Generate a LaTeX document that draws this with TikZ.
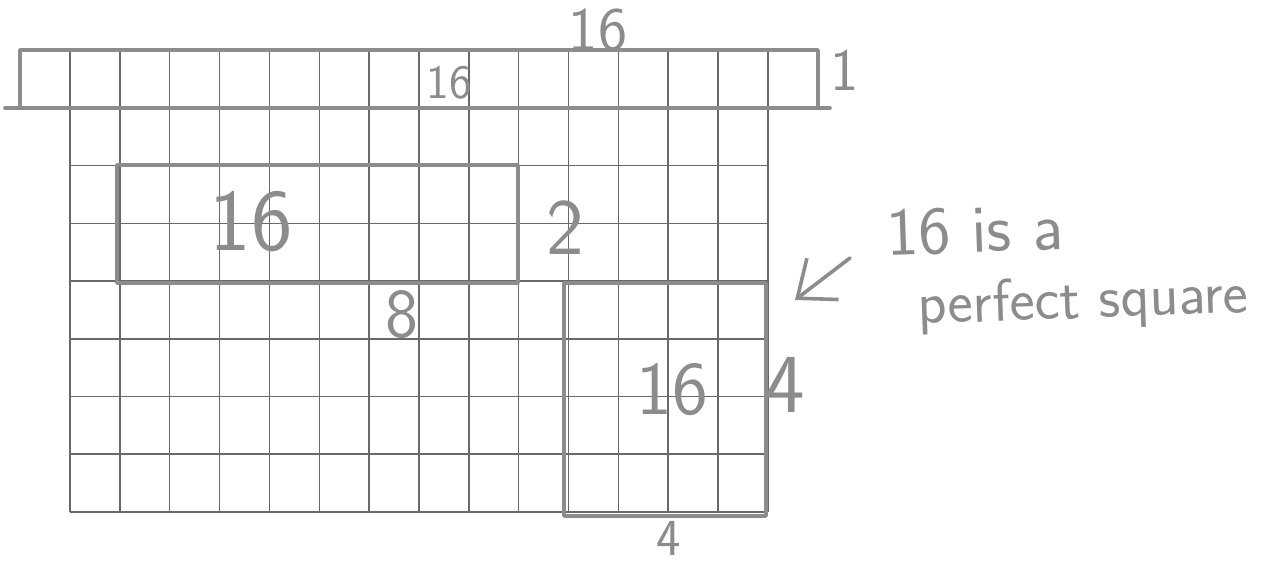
\documentclass[tikz,border=0pt]{standalone}
\usepackage{tikz}
\usepackage{xcolor}
\usetikzlibrary{arrows.meta}
\definecolor{gridGray}{RGB}{105,105,105}
\definecolor{penGray}{RGB}{140,140,140}
\tikzset{
  gridline/.style={draw=gridGray, line width=0.75pt},
  penline/.style={draw=penGray, line width=1.8pt, line cap=round, line join=round},
  hand/.style={text=penGray, font=\sffamily, inner sep=0pt},
  penarrow/.style={penline, -{Straight Barb[length=16pt,width=26pt]}}
}
\newcommand{\penfont}[1]{\fontsize{#1}{#1}\selectfont}

\begin{document}
\begin{tikzpicture}[x=0.5pt,y=-0.5pt]
  \useasboundingbox (0,0) rectangle (1269,565);

  % grid, 14 x 7 below the strip
  \foreach \k in {0,...,14}
    \draw[gridline] (70+49.85*\k,50) -- (70+49.85*\k,512);
  \foreach \j in {1,...,7}
    \draw[gridline] (70,108+57.7*\j) -- (768,108+57.7*\j);

  % 1 x 16 strip on top
  \draw[penline] (20,50) rectangle (818,108);
  \draw[penline] (5,108) -- (830,108);

  % 2 x 8 and 4 x 4 boxes
  \draw[penline] (117,165) rectangle (518,283);
  \draw[penline] (564,283) rectangle (766,516);

  \node[hand, font=\sffamily\penfont{31}] (stripTop) at (598,30) {16};
  \node[hand, font=\sffamily\penfont{24}] (stripIn) at (449,83) {16};
  \node[hand, font=\sffamily\penfont{30}] (stripOne) at (845,70) {1};
  \node[hand, font=\sffamily\penfont{44}] (rectA) at (251,222) {16};
  \node[hand, font=\sffamily\penfont{40}] (rectATwo) at (565,228) {2};
  \node[hand, font=\sffamily\penfont{35}] (rectAEight) at (402,315) {8};
  \node[hand, font=\sffamily\penfont{38}] (rectB) at (672,390) {16};
  \node[hand, font=\sffamily\penfont{42}] (rectBSide) at (785,385) {4};
  \node[hand, font=\sffamily\penfont{26}] (rectBBase) at (669,538) {4};

  \node[hand, font=\sffamily\penfont{34}, rotate=2] (note) at (975,230) {16 is a};
  \node[hand, font=\sffamily\penfont{30}, rotate=2] (noteLow) at (1083,303) {perfect square};

  \coordinate (tail) at (850,258);
  \coordinate (tip) at (795,300);
  \draw[penarrow] (tail) -- (tip);
\end{tikzpicture}
\end{document}
